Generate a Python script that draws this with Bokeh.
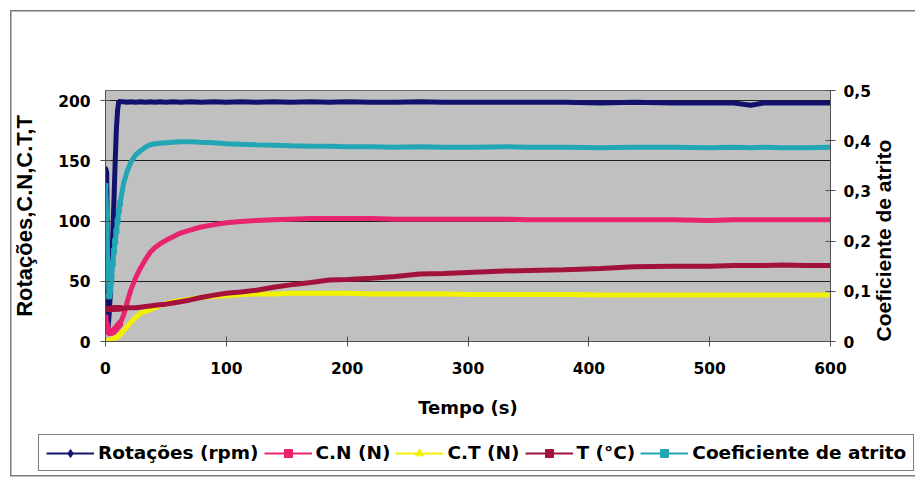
from bokeh.plotting import figure
from bokeh.layouts import column, row
from bokeh.models import LinearAxis, Range1d, FixedTicker, Legend, LegendItem
from bokeh.embed import file_html
from bokeh.resources import INLINE

# ---- data ----
tempo = [0, 1, 2, 3, 4, 5, 6, 7, 8, 9, 10, 11, 12,
         15, 18, 21, 25, 29, 33, 37, 41, 45, 50,
         56, 62, 70, 79, 90, 100, 112, 125, 139, 153,
         170, 185, 200, 220, 240, 260, 280, 305, 330, 350,
         380, 410, 437, 470, 500, 520, 534, 545, 560, 580, 600]

rotacoes = [144, 140, 10, 22, 40, 62, 88, 117, 149, 176, 192, 199, 199,
            199, 198.5, 199, 198.5, 199, 198.5, 199, 198.5, 199, 198.5,
            199, 198.5, 199, 198.5, 199, 198.5, 199, 198.5, 199, 198.5,
            199, 198.5, 199, 198.5, 198.5, 199, 198.5, 198.5, 198.5, 198.5,
            198.5, 198, 198.5, 198, 198, 198, 196, 198, 198, 198, 198]

cn = [20, 14, 10, 8, 7, 7.5, 8, 9, 10, 11, 12.5, 13.5, 15,
      22, 33, 43, 53, 61, 68, 74, 78, 81, 84,
      87, 90, 92.5, 95, 97, 98.5, 99.5, 100.5, 101, 101.5,
      102, 102, 102, 102, 101.5, 101.5, 101.5, 101.5, 101.5, 101,
      101, 101, 101, 101, 100.5, 101, 101, 101, 101, 101, 101]

ct = [0, 0, 0.5, 1, 1, 1.5, 2, 2.5, 3, 3.5, 4, 5, 6,
      9, 12.5, 16, 20, 23.5, 25, 26.5, 28, 30, 31.5,
      33, 34, 35, 36.5, 37.5, 38, 39, 39.5, 39.5, 40,
      40, 40, 40, 39.5, 39.5, 39.5, 39.5, 39, 39, 39,
      39, 38.5, 38.5, 38.5, 38.5, 38.5, 38.5, 38.5, 38.5, 38.5, 38.5]

temperatura = [27, 27, 27, 27, 27, 27, 27, 27.5, 27.5, 27.5, 27.5, 27.5, 27.5,
               27.5, 28, 28, 28, 28.5, 29, 29.5, 30, 30.5, 31,
               32, 33, 34.5, 36.5, 38.5, 40, 41, 42.5, 45, 47,
               49, 51, 51.5, 52.5, 54, 56, 56.5, 57.5, 58.5, 59,
               59.5, 60.5, 62, 62.5, 62.5, 63, 63, 63, 63.5, 63, 63]

coef = [0.31, 0.25, 0.15, 0.09, 0.10, 0.13, 0.155, 0.18, 0.20, 0.22, 0.24, 0.26, 0.275,
        0.315, 0.34, 0.357, 0.372, 0.38, 0.387, 0.392, 0.394, 0.395, 0.396,
        0.397, 0.398, 0.398, 0.397, 0.396, 0.394, 0.393, 0.392, 0.391, 0.39,
        0.389, 0.389, 0.388, 0.388, 0.387, 0.388, 0.387, 0.387, 0.388, 0.387,
        0.387, 0.386, 0.387, 0.387, 0.386, 0.387, 0.386, 0.387, 0.386, 0.386, 0.387]

x_ticks = [0, 100, 200, 300, 400, 500, 600]
left_ticks = [0, 50, 100, 150, 200]
right_ticks = [0, 0.1, 0.2, 0.3, 0.4, 0.5]
right_tick_labels = ["0", "0,1", "0,2", "0,3", "0,4", "0,5"]

series_names = ["Rotações (rpm)", "C.N (N)", "C.T (N)", "T (°C)", "Coeficiente de atrito"]
colors = ["#12126e", "#e8246f", "#f2f200", "#a3123d", "#22a6b6"]
markers = ["diamond", "square", "triangle", "square", "square"]

RULE = "linear-gradient(#7a7a7a,#7a7a7a)"

# ---- main chart ----
p = figure(width=915, height=420, output_backend="svg", toolbar_location=None,
           x_range=Range1d(0, 600), y_range=Range1d(0, 208.3),
           min_border_left=105, min_border_right=85,
           min_border_top=90, min_border_bottom=79)
p.extra_y_ranges = {"coef": Range1d(0, 0.5)}

p.background_fill_color = "#c0c0c0"
p.border_fill_alpha = 0
p.outline_line_color = "#6e6e6e"
p.outline_line_width = 1
p.styles = {"background": (f"{RULE} 10px 10px / 905px 1.5px no-repeat, "
                           f"{RULE} 10px 10px / 1.5px 410px no-repeat, white")}

p.xgrid.visible = False
p.ygrid.ticker = FixedTicker(ticks=left_ticks)
p.ygrid.grid_line_color = "#1e1e1e"
p.ygrid.grid_line_width = 1

tick_font = dict(major_label_text_font="DejaVu Sans",
                 major_label_text_font_style="bold",
                 major_label_text_font_size="15.5px",
                 major_label_text_color="black")

xa = p.xaxis[0]
xa.ticker = FixedTicker(ticks=x_ticks)
xa.axis_label = "Tempo (s)"
xa.axis_label_text_font = "DejaVu Sans"
xa.axis_label_text_font_style = "bold"
xa.axis_label_text_font_size = "18px"
xa.axis_label_text_color = "black"
xa.axis_label_standoff = 20
xa.major_label_standoff = 15

ya = p.yaxis[0]
ya.ticker = FixedTicker(ticks=left_ticks)
ya.axis_label = "Rotações,C.N,C.T,T"
ya.axis_label_text_font = "Liberation Sans"
ya.axis_label_text_font_style = "bold"
ya.axis_label_text_font_size = "22px"
ya.axis_label_text_color = "black"
ya.axis_label_standoff = 18
ya.major_label_standoff = 10

ra = LinearAxis(y_range_name="coef", ticker=FixedTicker(ticks=right_ticks),
                major_label_overrides=dict(zip(right_ticks, right_tick_labels)))
ra.major_label_standoff = 8
p.add_layout(ra, "right")

for ax in [xa, ya, ra]:
    for k, v in tick_font.items():
        setattr(ax, k, v)
    ax.major_tick_in = 5
    ax.major_tick_out = 5
    ax.minor_tick_line_color = None
    ax.axis_line_color = "#505050"
    ax.major_tick_line_color = "#505050"

# title of the secondary axis, reading bottom-to-top like the reference
rt = LinearAxis(y_range_name="coef", ticker=FixedTicker(ticks=[]),
                axis_label="Coeficiente de atrito")
rt.axis_line_color = None
rt.major_tick_line_color = None
rt.minor_tick_line_color = None
rt.axis_label_text_font = "Liberation Sans"
rt.axis_label_text_font_style = "bold"
rt.axis_label_text_font_size = "21px"
rt.axis_label_text_color = "black"
rt.axis_label_orientation = 1.5707963
rt.axis_label_align = "start"
rt.axis_label_standoff = 10
p.add_layout(rt, "right")

ys = [rotacoes, cn, ct, temperatura, coef]
n_start = 13  # individual readings visible as dots during the start-up ramp
for name, yv, c, m in zip(series_names, ys, colors, markers):
    kw = {"y_range_name": "coef"} if yv is coef else {}
    p.line(tempo, yv, line_color=c, line_width=5, **kw)
    p.scatter(tempo[:n_start], yv[:n_start], marker=m, size=5,
              fill_color=c, line_color=c, **kw)

# ---- legend strip (its own plot; the series sit outside its view range) ----
lg = figure(width=915, height=58, output_backend="svg", toolbar_location=None,
            x_axis_type=None, y_axis_type=None,
            x_range=Range1d(-2, -1), y_range=Range1d(-2, -1),
            min_border_left=0, min_border_right=0,
            min_border_top=0, min_border_bottom=0)
lg.outline_line_color = None
lg.background_fill_alpha = 0
lg.border_fill_alpha = 0
lg.styles = {"background": (f"{RULE} 10px 0px / 1.5px 56px no-repeat, "
                            f"{RULE} 10px 55px / 905px 1.5px no-repeat, white")}

items = []
for name, yv, c, m in zip(series_names, ys, colors, markers):
    lr = lg.line(tempo, yv, line_color=c, line_width=2)
    sr = lg.scatter(tempo, yv, marker=m, size=6, fill_color=c, line_color=c)
    items.append(LegendItem(label=name, renderers=[lr, sr]))

legend = Legend(items=items, orientation="horizontal", location=(38, 7),
                border_line_color="black", border_line_width=1,
                background_fill_color="white", background_fill_alpha=1,
                label_text_font="DejaVu Sans", label_text_font_style="bold",
                label_text_font_size="18.5px", label_text_color="black",
                glyph_width=48, glyph_height=20, label_standoff=4,
                spacing=5, padding=7, margin=0)
lg.add_layout(legend)

layout = column(p, row(lg), spacing=0)
open("out.html", "w").write(file_html(layout, INLINE))
